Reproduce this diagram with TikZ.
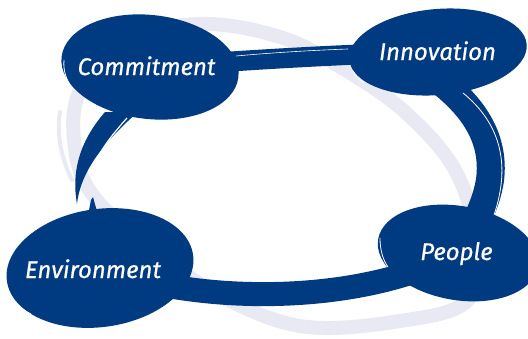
\documentclass[tikz,border=0pt]{standalone}
\usepackage{fontspec}
\setmainfont{Fira Sans}
\newfontfamily\lblfont{Fira Sans}[ItalicFeatures={FakeBold=0.6}]
\usetikzlibrary{shapes.geometric}
\definecolor{dblue}{HTML}{003A80}
\definecolor{lgrey}{HTML}{E8E9F3}
\begin{document}
\begin{tikzpicture}[x=1pt,y=-1pt,
  band/.style={draw=dblue, line cap=butt},
  bubble/.style={ellipse, fill=dblue, inner sep=0pt, draw=none},
  lbl/.style={text=white, font=\fontsize{24}{24}\lblfont\itshape, inner sep=0pt, anchor=base},
  ring/.style={draw=lgrey, line width=14pt},
  brush/.style={draw=white, line width=0.8pt}]
\useasboundingbox (0,0) rectangle (528,338);
\coordinate (cC) at (150,67);
\coordinate (cI) at (438,52);
\coordinate (cE) at (100,268);
\coordinate (cP) at (458,253);
% grey ring
\draw[ring] plot[smooth cycle, tension=0.6] coordinates {(78,95) (120,42) (200,24) (280,37) (342,68) (405,112) (455,170) (476,240) (468,300) (400,321) (300,326) (210,290) (140,238) (95,198) (76,155)};
\draw[lgrey, line width=4pt, line cap=round] (60,112) .. controls (56,135) and (62,160) .. (72,180);
% blue loop
\draw[band, line width=20pt] (cC) .. controls (250,60) and (340,54) .. (cI);
\draw[band, line width=28pt] (cI) -- (445,85) .. controls (475,110) and (495,140) .. (490,180)
   .. controls (486,205) and (475,225) .. (cP);
\draw[band, line width=24pt] (cE) .. controls (200,305) and (360,305) .. (cP);
\fill[dblue] (105,112) .. controls (85,135) and (70,165) .. (77,204)
   .. controls (80,175) and (100,145) .. (138,112) -- cycle;
\draw[brush, line width=1.2pt] (127,118) .. controls (112,135) and (100,150) .. (96,163);
\fill[dblue] (88,215) -- (91,200) -- (93,197) -- (98,215) -- cycle;
% brush hairlines on bands
\draw[brush, line width=0.6pt] (236,56) .. controls (280,52) and (320,50) .. (348,49);
\draw[brush] (463,93) .. controls (490,115) and (506,145) .. (501,185) .. controls (499,200) and (496,210) .. (492,220);
% bubbles
\node[bubble, minimum width=178pt, minimum height=104pt, rotate=-6.5] (C) at (cC) {};
\node[bubble, minimum width=178pt, minimum height=86pt, rotate=5] (I) at (cI) {};
\node[bubble, minimum width=188pt, minimum height=118pt, rotate=8] (E) at (cE) {};
\node[bubble, minimum width=162pt, minimum height=94pt, rotate=-10] (P) at (cP) {};
% brush hairlines on bubbles
\draw[brush] (64,60) .. controls (63,70) and (66,80) .. (73,89);
\draw[brush] (353,71) .. controls (356,76) and (359,80) .. (364,83);
\draw[brush] (15,302) .. controls (20,308) and (25,311) .. (31,314);
\draw[brush] (380,238) .. controls (380,250) and (383,260) .. (388,267);
% labels
\node[lbl] (tC) at (146.5,75) {Commitment};
\node[lbl] (tI) at (437.5,60) {Innovation};
\node[lbl] (tE) at (93,278) {Environment};
\node[lbl] (tP) at (456.5,260) {People};
\end{tikzpicture}
\end{document}
